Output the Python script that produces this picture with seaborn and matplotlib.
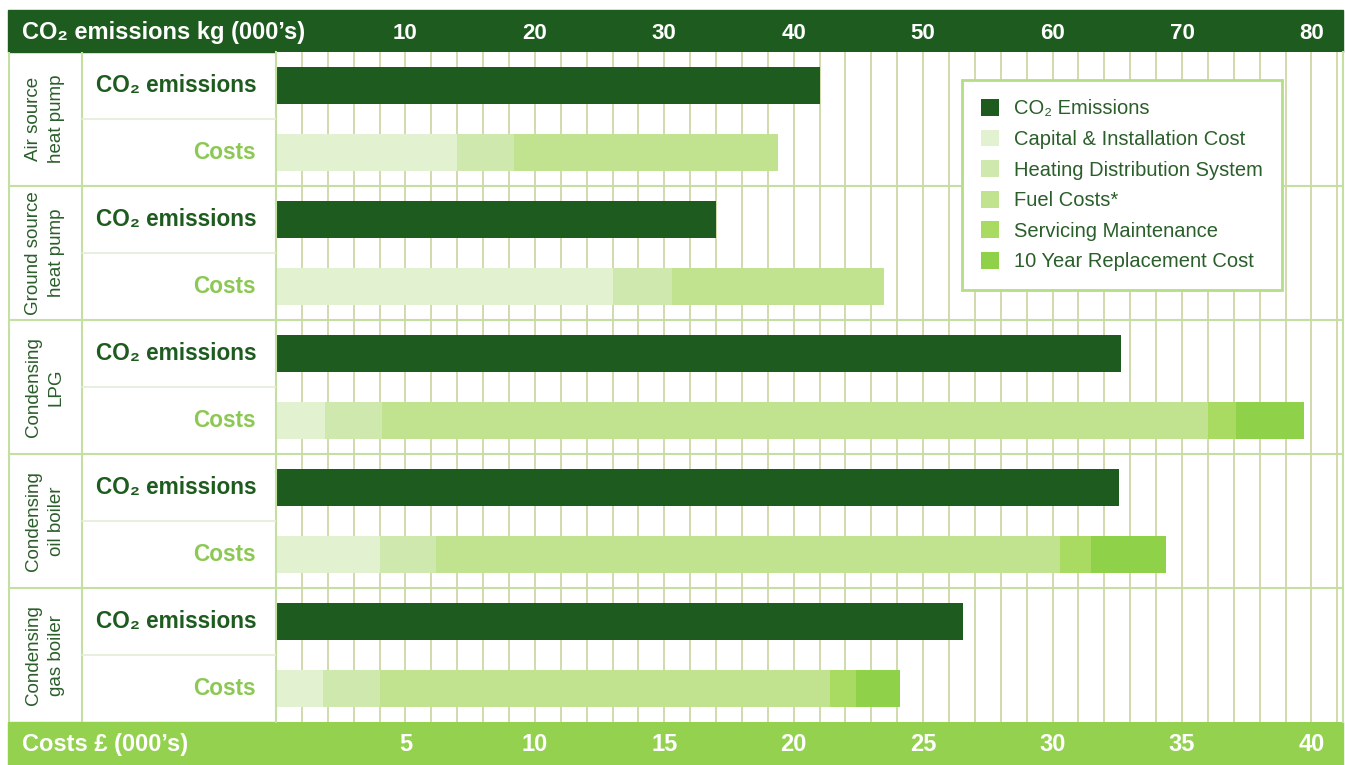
import matplotlib
matplotlib.use("Agg")
import matplotlib.pyplot as plt
import seaborn as sns
import pandas as pd
from matplotlib.patches import Rectangle, Patch
from matplotlib.ticker import MultipleLocator

# ---- data ----
categories = ["Air source\nheat pump", "Ground source\nheat pump", "Condensing\nLPG",
              "Condensing\noil boiler", "Condensing\ngas boiler"]
co2_kg = [42.0, 34.0, 65.3, 65.1, 53.1]          # kg (000's)
capital = [7.0, 13.0, 1.9, 4.0, 1.8]              # £ (000's)
heating = [2.2, 2.3, 2.2, 2.2, 2.2]
fuel = [10.2, 8.2, 31.9, 24.1, 17.4]
servicing = [0.0, 0.0, 1.1, 1.2, 1.0]
replacement = [0.0, 0.0, 2.6, 2.9, 1.7]
co2_ticks = [10, 20, 30, 40, 50, 60, 70, 80]
cost_ticks = [5, 10, 15, 20, 25, 30, 35, 40]
legend_labels = ["CO\u2082 Emissions", "Capital & Installation Cost", "Heating Distribution System",
                 "Fuel Costs*", "Servicing Maintenance", "10 Year Replacement Cost"]

KG_PER_GBP = 2  # 80 kg on the top scale lines up with £40 on the bottom

# colours
DARK = "#1d5c1e"
BAND2 = "#93d14f"
SEP = "#c3e0a0"
GRID = "#cdd8a6"
TXT = "#2a5e2a"
COSTS_TXT = "#8cc853"
cost_cols = ["#e2f1cf", "#cfe8ad", "#c1e28e", "#a9db63", "#8fd24a"]

sns.set_style("white")
plt.rcParams["font.family"] = ["Liberation Sans", "DejaVu Sans"]

W, H = 1345, 765
fig = plt.figure(figsize=(W / 100, H / 100), dpi=100)


def fx(px):
    return px / W


def fy(py):
    return 1 - py / H


# long table: one "a" row (CO2) and one "b" row (costs) per system
order = [f"{i}{s}" for i in range(len(categories)) for s in "ab"]
layers = [("capital", capital), ("heating", heating), ("fuel", fuel),
          ("servicing", servicing), ("replacement", replacement)]
records = []
for i in range(len(categories)):
    records.append({"row": f"{i}a", "layer": "co2", "value": co2_kg[i]})
    cum = 0
    for name, vals in layers:
        cum += vals[i]
        records.append({"row": f"{i}b", "layer": name, "value": cum * KG_PER_GBP})
df = pd.DataFrame(records)

ax = fig.add_axes([fx(276), fy(722), fx(1343) - fx(276), fy(52) - fy(722)])

sns.barplot(data=df[df.layer == "co2"], x="value", y="row", order=order, orient="h",
            color=DARK, saturation=1, width=0.55, linewidth=0, errorbar=None, ax=ax)
# stacked: draw cumulative totals from the outermost layer inwards
for (name, _), col in reversed(list(zip(layers, cost_cols))):
    sns.barplot(data=df[df.layer == name], x="value", y="row", order=order, orient="h",
                color=col, saturation=1, width=0.55, linewidth=0, errorbar=None, ax=ax)

ax.set_xlim(0, (1343 - 276) / 12.943)
ax.set_ylim(len(order) - 0.5, -0.5)
ax.set_xlabel("")
ax.set_ylabel("")
ax.set_yticks([])
ax.xaxis.set_minor_locator(MultipleLocator(2))
ax.set_axisbelow(True)
ax.grid(axis="x", which="both", color=GRID, lw=1.3)
ax.xaxis.tick_top()
ax.set_xticks(co2_ticks)
ax.set_xticklabels([str(t) for t in co2_ticks])
ax.tick_params(axis="x", which="both", length=0, pad=6, labelcolor="white", labelsize=16)
for lbl in ax.get_xticklabels():
    lbl.set_fontweight("bold")
for s in ["top", "bottom"]:
    ax.spines[s].set_visible(False)
for s in ["left", "right"]:
    ax.spines[s].set_color(SEP)
    ax.spines[s].set_linewidth(1.5)
for b in [1.5, 3.5, 5.5, 7.5]:
    ax.axhline(b, color=SEP, lw=1.5, zorder=0.5)

sec = ax.secondary_xaxis("bottom", functions=(lambda x: x / KG_PER_GBP, lambda x: x * KG_PER_GBP))
sec.set_xticks(cost_ticks)
sec.set_xticklabels([str(t) for t in cost_ticks])
sec.tick_params(length=0, pad=8, labelcolor="white", labelsize=17)
for lbl in sec.get_xticklabels():
    lbl.set_fontweight("bold")
    lbl.set_family(["Liberation Sans Narrow", "Liberation Sans"])
for s in sec.spines.values():
    s.set_visible(False)

# header / footer bands
fig.add_artist(Rectangle((fx(8), fy(52)), fx(1343) - fx(8), fy(10) - fy(52),
                         transform=fig.transFigure, color=DARK, zorder=-1))
fig.add_artist(Rectangle((fx(8), fy(765)), fx(1343) - fx(8), fy(722) - fy(765),
                         transform=fig.transFigure, color=BAND2, zorder=-1))
fig.text(fx(22), fy(32), "CO\u2082 emissions kg (000\u2019s)", color="white",
         fontsize=17, fontweight="bold", va="center", ha="left")
fig.text(fx(22), fy(744), "Costs \u00a3 (000\u2019s)", color="white", fontsize=17,
         fontweight="bold", va="center", ha="left",
         family=["Liberation Sans Narrow", "Liberation Sans"])

# left label columns
lab = fig.add_axes([fx(8), fy(722), fx(276) - fx(8), fy(52) - fy(722)])
lab.set_xlim(8, 276)
lab.set_ylim(len(order) - 0.5, -0.5)
lab.axis("off")
lab.axvline(9, color=SEP, lw=1.5)
lab.axvline(82, color=SEP, lw=1.5)
for b in [1.5, 3.5, 5.5, 7.5]:
    lab.axhline(b, color=SEP, lw=1.5)
for i, cat in enumerate(categories):
    lab.plot([82, 276], [2 * i + 0.5, 2 * i + 0.5], color="#e2eed5", lw=1.2)
    lab.text(45, 2 * i + 0.5, cat, rotation=90, ha="center", va="center",
             color=TXT, fontsize=13.5, linespacing=1.4)
    lab.text(256, 2 * i, "CO\u2082 emissions", ha="right", va="center",
             color=DARK, fontsize=16.3, fontweight="bold")
    lab.text(256, 2 * i + 1, "Costs", ha="right", va="center",
             color=COSTS_TXT, fontsize=16.3, fontweight="bold")

# legend
handles = [Patch(facecolor=c, edgecolor="none") for c in [DARK] + cost_cols]
leg = ax.legend(handles, legend_labels, loc="upper left",
                bbox_to_anchor=(fx(962), fy(80)), bbox_transform=fig.transFigure,
                frameon=True, fancybox=False, framealpha=1, fontsize=14.5,
                handlelength=0.9, handleheight=0.9, handletextpad=0.75,
                labelspacing=0.56, borderpad=0.95, borderaxespad=0)
leg.get_frame().set_edgecolor("#b5dd88")
leg.get_frame().set_linewidth(2)
for t in leg.get_texts():
    t.set_color(TXT)

fig.savefig("out.png", dpi=100)
